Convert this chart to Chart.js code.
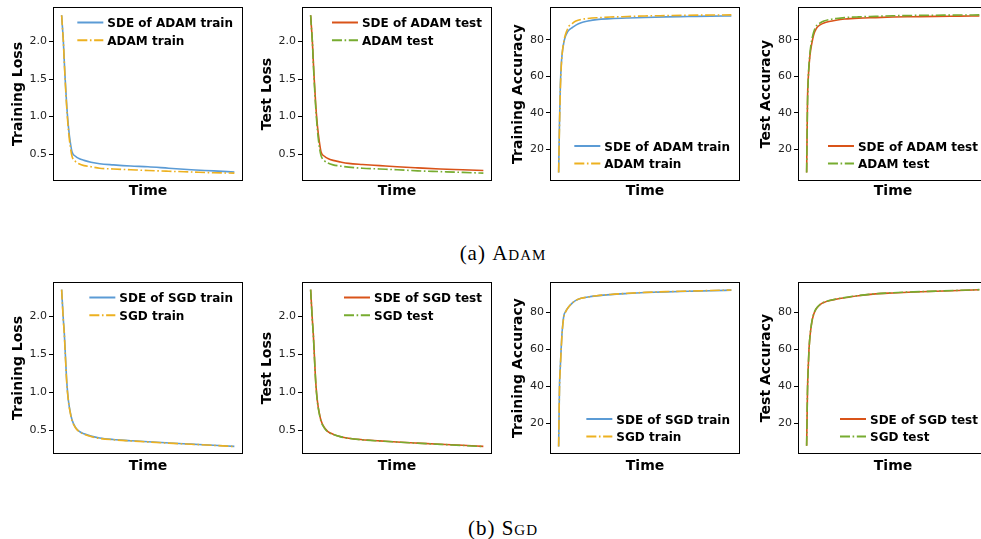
<!DOCTYPE html>
<html>
<head>
<meta charset="utf-8">
<script src="https://cdn.jsdelivr.net/npm/chart.js@4.4.1/dist/chart.umd.min.js"></script>
<style>
  html, body { margin: 0; padding: 0; background: #fff; }
  body { width: 981px; height: 539px; position: relative; overflow: hidden; }
  .panel { position: absolute; }
  .caption {
    position: absolute; width: 200px; text-align: center;
    font-family: "Liberation Serif", "Times New Roman", serif;
    font-size: 21px; line-height: 21px; letter-spacing: 1px; color: #000;
  }
  .sc { font-variant: small-caps; }
</style>
</head>
<body>
<div class="caption" style="left:403px; top:243px;">(a) <span class="sc">Adam</span></div>
<div class="caption" style="left:403px; top:518px;">(b) <span class="sc">Sgd</span></div>
<script>
// time axis shared by every curve (arbitrary units, 0..100)
const timeSteps = [0, 0.5, 1, 1.5, 2, 3, 4, 5, 6, 8, 10, 13, 17, 22, 30, 40, 50, 62, 75, 88, 100];

// ADAM
const adamTrainLossSde = [2.35, 2.18, 2.0, 1.75, 1.52, 1.13, 0.85, 0.66, 0.53, 0.47, 0.44, 0.415, 0.39, 0.37, 0.355, 0.34, 0.33, 0.31, 0.29, 0.275, 0.26];
const adamTrainLoss    = [2.35, 2.17, 2.0, 1.74, 1.5, 1.1, 0.8, 0.6, 0.47, 0.40, 0.37, 0.345, 0.33, 0.31, 0.30, 0.29, 0.28, 0.27, 0.26, 0.25, 0.245];
const adamTestLossSde  = [2.35, 2.18, 2.0, 1.76, 1.53, 1.14, 0.86, 0.67, 0.53, 0.47, 0.44, 0.415, 0.395, 0.375, 0.36, 0.345, 0.33, 0.315, 0.30, 0.29, 0.28];
const adamTestLoss     = [2.35, 2.17, 2.0, 1.74, 1.5, 1.1, 0.8, 0.6, 0.48, 0.41, 0.38, 0.355, 0.34, 0.325, 0.31, 0.30, 0.29, 0.275, 0.265, 0.255, 0.245];
const adamTrainAccSde  = [7.5, 35, 55, 66, 72, 78.5, 82, 84, 85.3, 86.7, 88, 89.3, 90.2, 91, 91.5, 91.9, 92.2, 92.5, 92.7, 92.9, 93];
const adamTrainAcc     = [7.5, 33, 53, 65, 72, 79, 83, 85.5, 87.5, 89, 90.2, 91.1, 91.6, 92, 92.4, 92.7, 93, 93.2, 93.4, 93.5, 93.6];
const adamTestAccSde   = [7.5, 47, 60, 67, 72, 78, 82.5, 85, 86.7, 88.3, 89.2, 90, 90.7, 91.3, 91.8, 92.1, 92.4, 92.6, 92.8, 92.9, 93];
const adamTestAcc      = [7.5, 44, 60, 68, 73.5, 80, 84, 86.5, 88, 89.3, 90.2, 91, 91.6, 92.1, 92.5, 92.8, 93.1, 93.3, 93.4, 93.5, 93.6];

// SGD
const sgdTrainLossSde = [2.35, 2.15, 1.95, 1.8, 1.57, 1.13, 0.88, 0.74, 0.64, 0.54, 0.49, 0.455, 0.425, 0.40, 0.38, 0.365, 0.35, 0.335, 0.32, 0.305, 0.29];
const sgdTrainLoss    = [2.35, 2.14, 1.94, 1.78, 1.55, 1.11, 0.87, 0.73, 0.63, 0.535, 0.485, 0.45, 0.42, 0.395, 0.377, 0.362, 0.348, 0.333, 0.318, 0.303, 0.288];
const sgdTestLossSde  = [2.35, 2.15, 1.95, 1.79, 1.56, 1.12, 0.87, 0.73, 0.63, 0.535, 0.485, 0.45, 0.42, 0.397, 0.378, 0.363, 0.348, 0.333, 0.318, 0.304, 0.29];
const sgdTestLoss     = [2.35, 2.14, 1.94, 1.78, 1.55, 1.11, 0.86, 0.72, 0.62, 0.53, 0.48, 0.447, 0.418, 0.395, 0.376, 0.361, 0.347, 0.332, 0.317, 0.302, 0.288];
const sgdTrainAccSde  = [7.5, 40, 51, 61, 69, 78, 80.2, 81.8, 83, 85, 86.3, 87.4, 88.1, 88.7, 89.4, 90, 90.5, 90.9, 91.2, 91.5, 91.8];
const sgdTrainAcc     = [7.5, 39, 50.5, 60.5, 68.5, 77.5, 80, 81.7, 83, 85, 86.3, 87.4, 88.1, 88.8, 89.5, 90.1, 90.6, 91, 91.3, 91.6, 91.9];
const sgdTestAccSde   = [7.9, 38, 52, 62, 67.5, 74.5, 78.5, 80.8, 82.3, 84.2, 85.2, 86.1, 86.9, 87.7, 88.8, 89.8, 90.3, 90.8, 91.2, 91.6, 92];
const sgdTestAcc      = [7.9, 37.5, 51.5, 61.5, 67.5, 74.8, 78.8, 81, 82.5, 84.3, 85.3, 86.2, 87, 87.8, 88.9, 89.8, 90.4, 90.9, 91.3, 91.7, 92.1];

const lossTicks = [0.5, 1.0, 1.5, 2.0];
const accTicks = [20, 40, 60, 80];

const BLUE = '#5b9bd5', YELLOW = '#edb120', RED = '#d95319', GREEN = '#77ac30';
const DASHDOT = [10, 2.6, 1.6, 2.6];

// draws frame, axis titles and the in-axes legend
const panelDecor = {
  id: 'panelDecor',
  afterDraw(chart, args, o) {
    const { ctx, chartArea: a } = chart;
    ctx.save();
    ctx.strokeStyle = '#000';
    ctx.lineWidth = 1;
    ctx.strokeRect(Math.round(a.left) + 0.5, Math.round(a.top) + 0.5,
      Math.round(a.right - a.left) - 1, Math.round(a.bottom - a.top) - 1);

    ctx.fillStyle = '#000';
    ctx.font = 'bold 14px "DejaVu Sans"';
    ctx.textAlign = 'center';
    ctx.textBaseline = 'alphabetic';
    ctx.fillText('Time', (a.left + a.right) / 2, a.bottom + o.timeGap);

    ctx.save();
    ctx.translate(a.left - o.yTitleGap, (a.top + a.bottom) / 2);
    ctx.rotate(-Math.PI / 2);
    ctx.fillText(o.yTitle, 0, 0);
    ctx.restore();

    ctx.font = 'bold 12px "DejaVu Sans"';
    ctx.textAlign = 'left';
    const w = Math.max(...o.legend.map(it => ctx.measureText(it.label).width));
    const tx = a.right - 10 - w;
    o.legend.forEach((it, i) => {
      const y = o.legendTop ? a.top + 15.5 + i * 17.8 : a.bottom - 35 + i * 17.5;
      ctx.beginPath();
      ctx.setLineDash(it.dash);
      ctx.strokeStyle = it.color;
      ctx.lineWidth = 2;
      ctx.moveTo(tx - 30, y);
      ctx.lineTo(tx - 4, y);
      ctx.stroke();
      ctx.setLineDash([]);
      ctx.fillStyle = '#000';
      ctx.fillText(it.label, tx, y + 4.5);
    });
    ctx.restore();
  }
};

function toPoints(vals) {
  return timeSteps.map((t, i) => ({ x: t, y: vals[i] }));
}

function makePanel(p) {
  const canvas = document.createElement('canvas');
  canvas.width = 248;
  canvas.height = 12 + p.h + 30;
  const wrap = document.createElement('div');
  wrap.className = 'panel';
  wrap.style.left = (p.left - 53) + 'px';
  wrap.style.top = (p.top - 12) + 'px';
  wrap.style.width = canvas.width + 'px';
  wrap.style.height = canvas.height + 'px';
  wrap.appendChild(canvas);
  document.body.appendChild(wrap);

  const isLoss = p.kind === 'loss';
  new Chart(canvas.getContext('2d'), {
    type: 'line',
    data: {
      datasets: [
        { data: toPoints(p.sde), borderColor: p.c1, borderWidth: 1.6, order: 2 },
        { data: toPoints(p.opt), borderColor: p.c2, borderWidth: 1.6, borderDash: DASHDOT, order: 1 }
      ]
    },
    options: {
      responsive: false,
      animation: false,
      layout: { padding: { top: 12, right: 5, bottom: 30, left: 0 } },
      elements: { point: { radius: 0 }, line: { cubicInterpolationMode: 'monotone' } },
      scales: {
        x: { type: 'linear', min: -5, max: 105, display: false },
        y: {
          min: p.yMin, max: p.yMax,
          afterBuildTicks: s => { s.ticks = (isLoss ? lossTicks : accTicks).map(v => ({ value: v })); },
          afterFit: s => { s.width = 53; },
          grid: { drawOnChartArea: false, drawTicks: true, tickLength: 4, color: '#000', tickColor: '#000' },
          border: { display: false },
          ticks: {
            color: '#222', padding: 2,
            font: { family: 'DejaVu Sans', size: 11 },
            callback: v => isLoss ? v.toFixed(1) : String(v)
          }
        }
      },
      plugins: {
        legend: { display: false },
        tooltip: { enabled: false },
        panelDecor: {
          yTitle: p.yTitle,
          yTitleGap: isLoss ? 31.5 : 28,
          timeGap: p.timeGap,
          legendTop: isLoss,
          legend: [
            { label: p.l1, color: p.c1, dash: [] },
            { label: p.l2, color: p.c2, dash: DASHDOT }
          ]
        }
      }
    },
    plugins: [panelDecor]
  });
}

const cols = [53, 302, 550, 798];
const rowA = { top: 7, h: 174, timeGap: 14 };
const rowB = { top: 282, h: 172, timeGap: 15.5 };

makePanel({ ...rowA, left: cols[0], kind: 'loss', yMin: 0.14, yMax: 2.46, yTitle: 'Training Loss',
  sde: adamTrainLossSde, opt: adamTrainLoss, c1: BLUE, c2: YELLOW, l1: 'SDE of ADAM train', l2: 'ADAM train' });
makePanel({ ...rowA, left: cols[1], kind: 'loss', yMin: 0.14, yMax: 2.46, yTitle: 'Test Loss',
  sde: adamTestLossSde, opt: adamTestLoss, c1: RED, c2: GREEN, l1: 'SDE of ADAM test', l2: 'ADAM test' });
makePanel({ ...rowA, left: cols[2], kind: 'acc', yMin: 2.8, yMax: 97.9, yTitle: 'Training Accuracy',
  sde: adamTrainAccSde, opt: adamTrainAcc, c1: BLUE, c2: YELLOW, l1: 'SDE of ADAM train', l2: 'ADAM train' });
makePanel({ ...rowA, left: cols[3], kind: 'acc', yMin: 2.8, yMax: 97.9, yTitle: 'Test Accuracy',
  sde: adamTestAccSde, opt: adamTestAcc, c1: RED, c2: GREEN, l1: 'SDE of ADAM test', l2: 'ADAM test' });

makePanel({ ...rowB, left: cols[0], kind: 'loss', yMin: 0.19, yMax: 2.45, yTitle: 'Training Loss',
  sde: sgdTrainLossSde, opt: sgdTrainLoss, c1: BLUE, c2: YELLOW, l1: 'SDE of SGD train', l2: 'SGD train' });
makePanel({ ...rowB, left: cols[1], kind: 'loss', yMin: 0.19, yMax: 2.45, yTitle: 'Test Loss',
  sde: sgdTestLossSde, opt: sgdTestLoss, c1: RED, c2: GREEN, l1: 'SDE of SGD test', l2: 'SGD test' });
makePanel({ ...rowB, left: cols[2], kind: 'acc', yMin: 3.5, yMax: 96.2, yTitle: 'Training Accuracy',
  sde: sgdTrainAccSde, opt: sgdTrainAcc, c1: BLUE, c2: YELLOW, l1: 'SDE of SGD train', l2: 'SGD train' });
makePanel({ ...rowB, left: cols[3], kind: 'acc', yMin: 3.5, yMax: 96.2, yTitle: 'Test Accuracy',
  sde: sgdTestAccSde, opt: sgdTestAcc, c1: RED, c2: GREEN, l1: 'SDE of SGD test', l2: 'SGD test' });
</script>
</body>
</html>
